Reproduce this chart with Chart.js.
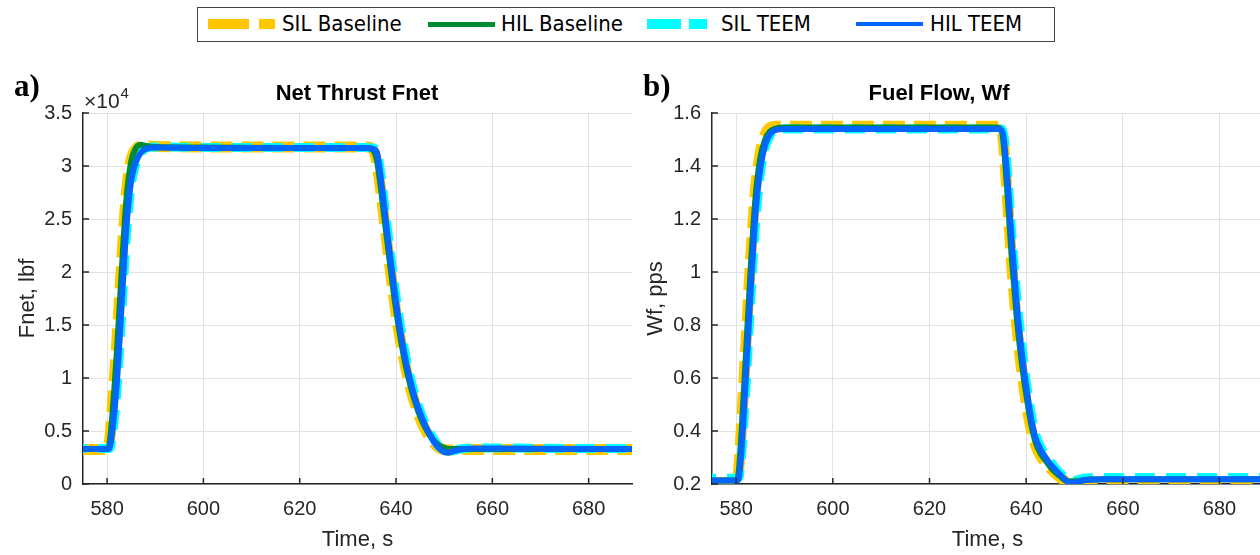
<!DOCTYPE html>
<html>
<head>
<meta charset="utf-8">
<script src="https://cdn.jsdelivr.net/npm/chart.js@4.4.1/dist/chart.umd.min.js"></script>
<style>
  body { margin: 0; width: 1260px; height: 555px; overflow: hidden; position: relative; background: #fff; }
  .panel { position: absolute; top: 0; height: 555px; }
  #legend { position: absolute; left: 197px; top: 7px; width: 856px; height: 33px; border: 1.3px solid #444; background: #fff; z-index: 2;
            font-family: "Liberation Sans Narrow", "DejaVu Sans Condensed", Arial, sans-serif; font-size: 22px; color: #000; }
  #legend .sw { position: absolute; }
  #legend .lb { position: absolute; top: 3px; white-space: nowrap; }
</style>
</head>
<body>
<div class="panel" style="left:0;width:640px"><canvas id="fnetChart"></canvas></div>
<div class="panel" style="left:640px;width:624px"><canvas id="wfChart"></canvas></div>
<div id="legend"></div>

<script>
// time grid shared by all traces (s)
const timeS = [575, 580, 580.5, 581, 582, 583, 584, 585, 586, 587, 588, 590, 600, 620, 634, 635, 636, 637, 638, 639,
               640, 641, 642, 643, 644, 645, 646, 647, 648, 649, 650, 651, 652, 654, 656, 660, 680, 689];

// Net thrust, lbf
const fnetSilBase = [3250, 3250, 4000, 6800, 13200, 20800, 27400, 30600, 31600, 31900, 31900, 31850, 31800, 31800, 31800, 31700, 30400, 27000, 23200, 19500,
                     16100, 13300, 11000, 9100, 7500, 6200, 5200, 4400, 3800, 3400, 3250, 3200, 3200, 3250, 3250, 3250, 3250, 3250];
const fnetHilBase = [3300, 3300, 3800, 6000, 12200, 19800, 26800, 30400, 31700, 32000, 31900, 31800, 31750, 31700, 31700, 31600, 30600, 27400, 23600, 19900,
                     16500, 13600, 11200, 9300, 7700, 6400, 5400, 4600, 4000, 3600, 3400, 3300, 3300, 3300, 3300, 3300, 3300, 3300];
const fnetSilTeem = [3350, 3350, 3350, 4200, 8600, 15800, 23400, 28200, 30200, 31200, 31650, 31800, 31750, 31750, 31750, 31700, 31450, 28700, 24900, 21200,
                     17700, 14700, 12100, 10000, 8300, 6900, 5800, 4900, 4100, 3500, 3100, 3000, 3150, 3350, 3400, 3400, 3350, 3350];
const fnetHilTeem = [3300, 3300, 3350, 4600, 9400, 16800, 24200, 28600, 30400, 31250, 31600, 31750, 31700, 31700, 31700, 31650, 31300, 28300, 24400, 20700,
                     17200, 14200, 11700, 9700, 8000, 6700, 5600, 4700, 3900, 3350, 3000, 2950, 3100, 3300, 3350, 3350, 3300, 3300];

// Fuel flow, pps
const wfSilBase = [0.205, 0.205, 0.25, 0.39, 0.72, 1.05, 1.31, 1.45, 1.52, 1.545, 1.55, 1.55, 1.55, 1.55, 1.55, 1.53, 1.31, 1.03, 0.81, 0.64,
                   0.51, 0.41, 0.345, 0.305, 0.28, 0.26, 0.24, 0.225, 0.212, 0.205, 0.203, 0.205, 0.207, 0.207, 0.207, 0.207, 0.207, 0.207];
const wfHilBase = [0.213, 0.213, 0.24, 0.36, 0.68, 1.01, 1.28, 1.43, 1.50, 1.53, 1.54, 1.545, 1.545, 1.545, 1.545, 1.53, 1.33, 1.06, 0.84, 0.67,
                   0.54, 0.43, 0.355, 0.315, 0.29, 0.265, 0.245, 0.23, 0.215, 0.21, 0.21, 0.212, 0.215, 0.217, 0.218, 0.218, 0.218, 0.218];
const wfSilTeem = [0.222, 0.222, 0.222, 0.28, 0.56, 0.89, 1.18, 1.37, 1.47, 1.515, 1.535, 1.54, 1.54, 1.54, 1.54, 1.54, 1.41, 1.15, 0.92, 0.74,
                   0.59, 0.47, 0.385, 0.34, 0.31, 0.285, 0.262, 0.242, 0.225, 0.213, 0.212, 0.218, 0.222, 0.225, 0.225, 0.225, 0.225, 0.225];
const wfHilTeem = [0.213, 0.213, 0.22, 0.30, 0.60, 0.93, 1.22, 1.39, 1.48, 1.52, 1.535, 1.54, 1.54, 1.54, 1.54, 1.535, 1.38, 1.12, 0.89, 0.71,
                   0.57, 0.45, 0.37, 0.33, 0.30, 0.275, 0.255, 0.235, 0.218, 0.205, 0.206, 0.21, 0.214, 0.217, 0.218, 0.218, 0.218, 0.218];

// ticks
const timeTicks = [580, 600, 620, 640, 660, 680];
const fnetTicks = [0, 5000, 10000, 15000, 20000, 25000, 30000, 35000];
const wfTicks = [0.2, 0.4, 0.6, 0.8, 1, 1.2, 1.4, 1.6];

const seriesNames = ["SIL Baseline", "HIL Baseline", "SIL TEEM", "HIL TEEM"];
const seriesColors = ["#FFC800", "#008C32", "#00FFFF", "#0066FF"];

const AXIS_COLOR = "#262626";
const FONT = '"Liberation Sans", Arial, sans-serif';

// legend (html)
const legendSwatches = [
    { left: 10, width: 67, height: 10, bg: `linear-gradient(to right, ${seriesColors[0]} 0 41px, transparent 41px 51px, ${seriesColors[0]} 51px 67px)`, text: 84 },
    { left: 230, width: 67, height: 5, bg: seriesColors[1], text: 303 },
    { left: 449, width: 60, height: 10, bg: `linear-gradient(to right, ${seriesColors[2]} 0 34px, transparent 34px 42px, ${seriesColors[2]} 42px 60px)`, text: 523 },
    { left: 658, width: 67, height: 4, bg: seriesColors[3], text: 732 }
];
const legendEl = document.getElementById("legend");
legendSwatches.forEach((s, i) => {
    const sw = document.createElement("div");
    sw.className = "sw";
    sw.style.left = s.left + "px";
    sw.style.width = s.width + "px";
    sw.style.height = s.height + "px";
    sw.style.top = (16 - s.height / 2) + "px";
    sw.style.background = s.bg;
    legendEl.appendChild(sw);
    const lb = document.createElement("span");
    lb.className = "lb";
    lb.style.left = s.text + "px";
    lb.textContent = seriesNames[i];
    legendEl.appendChild(lb);
});

function makeDatasets(vals) {
    return [
        { label: seriesNames[3], data: timeS.map((t, i) => ({ x: t, y: vals[3][i] })), borderColor: seriesColors[3], borderWidth: 6, order: 1 },
        { label: seriesNames[1], data: timeS.map((t, i) => ({ x: t, y: vals[1][i] })), borderColor: seriesColors[1], borderWidth: 6, order: 2 },
        { label: seriesNames[2], data: timeS.map((t, i) => ({ x: t, y: vals[2][i] })), borderColor: seriesColors[2], borderWidth: 9,
          borderDash: [20, 11], borderDashOffset: 16, order: 3 },
        { label: seriesNames[0], data: timeS.map((t, i) => ({ x: t, y: vals[0][i] })), borderColor: seriesColors[0], borderWidth: 11,
          borderDash: [22, 9], order: 4 }
    ].map(d => Object.assign(d, { pointRadius: 0, fill: false, cubicInterpolationMode: "monotone", borderCapStyle: "butt" }));
}

/* inner tick marks, titles, panel letters */
const decor = {
    id: "decor",
    afterDraw(chart, args, o) {
        const { ctx, chartArea: a, scales: { x, y } } = chart;
        ctx.save();
        ctx.strokeStyle = AXIS_COLOR;
        ctx.lineWidth = 1.5;
        ctx.beginPath();
        x.ticks.forEach(t => {
            const px = x.getPixelForValue(t.value);
            ctx.moveTo(px, a.bottom); ctx.lineTo(px, a.bottom - 6);
        });
        y.ticks.forEach(t => {
            const py = y.getPixelForValue(t.value);
            ctx.moveTo(a.left, py); ctx.lineTo(a.left + 6, py);
        });
        ctx.stroke();

        ctx.fillStyle = "#000";
        ctx.font = "bold 22px " + FONT;
        ctx.textAlign = "center";
        ctx.textBaseline = "middle";
        ctx.fillText(o.title, o.titleX, 94);

        ctx.font = 'bold 31px "Liberation Serif", "Times New Roman", serif';
        ctx.textAlign = "left";
        ctx.textBaseline = "alphabetic";
        ctx.fillText(o.panel, o.panelX, 96);

        if (o.exponent) {
            ctx.fillStyle = AXIS_COLOR;
            ctx.font = "21px " + FONT;
            const base = "\u00d710";
            ctx.fillText(base, a.left + 1, 108);
            const w = ctx.measureText(base).width;
            ctx.font = "15px " + FONT;
            ctx.fillText(o.exponent, a.left + 2 + w, 98);
        }
        ctx.restore();
    }
};

function makeChart(id, vals, yMin, yMax, yTickVals, yFmt, yTitle, yWidth, yTitlePad, padRight, decorOpts) {
    return new Chart(document.getElementById(id), {
        type: "line",
        data: { datasets: makeDatasets(vals) },
        options: {
            responsive: true,
            maintainAspectRatio: false,
            animation: false,
            layout: { padding: { top: 113, right: padRight, left: 0, bottom: 0 } },
            plugins: { legend: { display: false }, tooltip: { enabled: false }, decor: decorOpts },
            scales: {
                x: {
                    type: "linear", min: 575, max: 689,
                    afterBuildTicks: s => { s.ticks = timeTicks.map(v => ({ value: v })); },
                    afterFit: s => { s.height = 71; },
                    grid: { color: "#e2e2e2", lineWidth: 1, drawTicks: false },
                    border: { color: AXIS_COLOR, width: 1.5 },
                    ticks: { padding: 13, color: AXIS_COLOR, font: { family: FONT, size: 20 }, maxRotation: 0 },
                    title: { display: true, text: "Time, s", color: AXIS_COLOR, font: { family: FONT, size: 22 }, padding: { top: 0, bottom: 2 } }
                },
                y: {
                    min: yMin, max: yMax,
                    afterBuildTicks: s => { s.ticks = yTickVals.map(v => ({ value: v })); },
                    afterFit: s => { s.width = yWidth; },
                    grid: { color: "#e2e2e2", lineWidth: 1, drawTicks: false },
                    border: { color: AXIS_COLOR, width: 1.5 },
                    ticks: { padding: 11, color: AXIS_COLOR, font: { family: FONT, size: 20 }, callback: yFmt },
                    title: { display: true, text: yTitle, color: AXIS_COLOR, font: { family: FONT, size: 22 }, padding: { top: yTitlePad, bottom: 0 } }
                }
            }
        },
        plugins: [decor]
    });
}

makeChart("fnetChart", [fnetSilBase, fnetHilBase, fnetSilTeem, fnetHilTeem], 0, 35000, fnetTicks,
    v => String(v / 10000), "Fnet, lbf", 83, 15, 8,
    { title: "Net Thrust Fnet", titleX: 357, panel: "a)", panelX: 14, exponent: "4" });

makeChart("wfChart", [wfSilBase, wfHilBase, wfSilTeem, wfHilTeem], 0.2, 1.6, wfTicks,
    v => String(Number(v.toFixed(1))), "Wf, pps", 72, 3, 1,
    { title: "Fuel Flow, Wf", titleX: 299, panel: "b)", panelX: 3 });
</script>
</body>
</html>
